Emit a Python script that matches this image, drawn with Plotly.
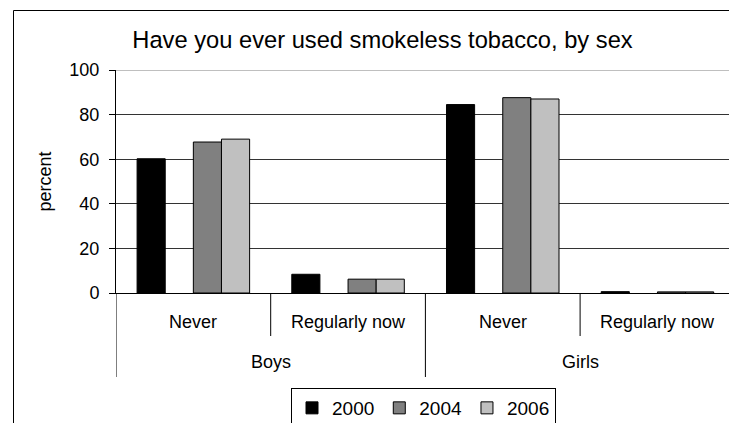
import plotly.graph_objects as go

# ---- data ----
sexes = ["Boys", "Boys", "Girls", "Girls"]
responses = ["Never", "Regularly now", "Never", "Regularly now"]
years = ["2000", "2004", "2006"]
values_2000 = [60.2, 8.4, 84.5, 0.6]
values_2004 = [67.7, 6.2, 87.6, 0.5]
values_2006 = [69.0, 6.2, 87.0, 0.5]
y_ticks = [0, 20, 40, 60, 80, 100]
title_text = "Have you ever used smokeless tobacco, by sex"
y_title = "percent"

series = {"2000": values_2000, "2004": values_2004, "2006": values_2006}
colors = {"2000": "#000000", "2004": "#808080", "2006": "#C0C0C0"}

cats = [f"{s}|{r}" for s, r in zip(sexes, responses)]

W, H = 729, 423
ML, MT, MB, MR = 116, 70, 130, 0
plot_w = W - ML - MR
plot_h = H - MT - MB
cat_w = 154.7

fig = go.Figure()
fig.add_trace(go.Bar(x=cats, y=series["2000"], name="2000",
                     marker=dict(color=colors["2000"], line=dict(color="black", width=1))))
# empty slot (unused series position in the original chart)
fig.add_trace(go.Bar(x=cats, y=[None] * len(cats), name="", showlegend=False,
                     hoverinfo="skip", marker=dict(color="rgba(0,0,0,0)", line=dict(width=0))))
for yr in ["2004", "2006"]:
    fig.add_trace(go.Bar(x=cats, y=series[yr], name=yr,
                         marker=dict(color=colors[yr], line=dict(color="black", width=1))))

font = "Liberation Sans, Arial, sans-serif"

annotations = []
for i, r in enumerate(responses):
    annotations.append(dict(x=i, xref="x", y=0, yref="paper", yshift=-28.5,
                            text=r, showarrow=False, xanchor="center", yanchor="middle",
                            font=dict(size=18, color="black", family=font)))
outer = []
for i, s in enumerate(sexes):
    if s not in [o[0] for o in outer]:
        outer.append([s, [i]])
    else:
        [o for o in outer if o[0] == s][0][1].append(i)
for s, idx in outer:
    annotations.append(dict(x=(idx[0] + idx[-1]) / 2, xref="x", y=0, yref="paper", yshift=-68.5,
                            text=s, showarrow=False, xanchor="center", yanchor="middle",
                            font=dict(size=18, color="black", family=font)))

shapes = []
inner_len = 43 / plot_h
outer_len = 84 / plot_h
for b in range(len(cats) + 1):
    xb = b - 0.5
    if b == 0 or b == len(cats) or sexes[b - 1] != sexes[b]:
        ln = outer_len
    else:
        ln = inner_len
    shapes.append(dict(type="line", xref="x", yref="paper", x0=xb, x1=xb, y0=0, y1=-ln,
                       line=dict(color="black", width=1)))
shapes.append(dict(type="line", xref="paper", yref="y", x0=0, x1=1, y0=100, y1=100,
                   line=dict(color="#808080", width=1), layer="above"))
shapes.append(dict(type="rect", xref="paper", yref="paper",
                   x0=(13.5 - ML) / plot_w, x1=1.2,
                   y0=-2, y1=(H - MB - 10.5) / plot_h,
                   line=dict(color="black", width=1)))

fig.update_layout(
    width=W, height=H,
    margin=dict(l=ML, r=MR, t=MT, b=MB, pad=0),
    paper_bgcolor="white", plot_bgcolor="white",
    barmode="group", bargap=0.2727, bargroupgap=0,
    font=dict(family=font, size=18, color="black"),
    title=dict(text=title_text, xref="container", yref="container",
               x=382.5 / W, y=1 - 40 / H, xanchor="center", yanchor="middle",
               font=dict(size=23.7, family=font, color="black")),
    xaxis=dict(type="category", range=[-0.5, -0.5 + plot_w / cat_w],
               showticklabels=False, ticks="", showgrid=False,
               showline=True, linecolor="black", linewidth=1, zeroline=False),
    yaxis=dict(range=[0, 100], tickvals=y_ticks, ticks="outside", ticklen=6,
               tickcolor="black", showline=True, linecolor="black", linewidth=1,
               showgrid=True, gridcolor="#333333", gridwidth=1, zeroline=False,
               tickfont=dict(size=18), ticklabelstandoff=6,
               title=dict(text=y_title, font=dict(size=18), standoff=13)),
    legend=dict(orientation="h", x=(304 + 543) / 2 / W, xref="container",
                xanchor="center", y=1 - 388 / H, yref="container", yanchor="top",
                bordercolor="black", borderwidth=1, bgcolor="white",
                font=dict(size=19), traceorder="normal"),
    annotations=annotations, shapes=shapes,
    showlegend=True,
)

fig.write_html(
    "out.html",
    config={"displayModeBar": False},
    post_script=(
        "document.body.style.margin='0';"
        "document.body.style.overflow='hidden';"
        "document.documentElement.style.overflow='hidden';"
    ),
)
